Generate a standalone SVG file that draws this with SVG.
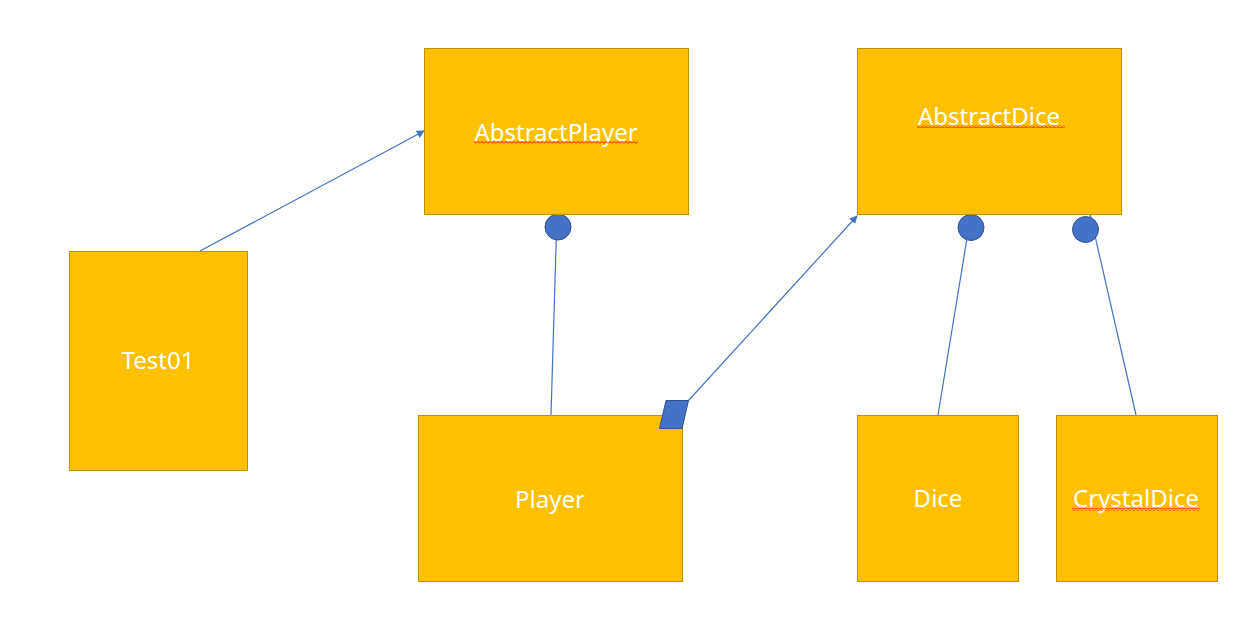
<svg xmlns="http://www.w3.org/2000/svg" width="1253" height="637" viewBox="0 0 1253 637">
<style>
.box{fill:#FFC000;stroke:#BF9000;stroke-width:1}
.lbl{font-family:"Noto Sans","Open Sans","Liberation Sans",sans-serif;font-size:24px;fill:#FFFFFF;text-anchor:middle}
.con{stroke:#4472C4;stroke-width:1.2;fill:none}
.dot{fill:#4472C4;stroke:#2F528F;stroke-width:1}
.squig{fill:url(#sq)}
</style>
<defs>
<marker id="arr" viewBox="0 0 10 10" refX="9" refY="5" markerWidth="8" markerHeight="8" markerUnits="userSpaceOnUse" orient="auto">
<path d="M0,0 L10,5 L0,10 z" fill="#4472C4"/>
</marker>
<pattern id="sq" patternUnits="userSpaceOnUse" width="4" height="3">
<path d="M0,2.5 L2,0.5 L4,2.5" stroke="#FF0000" stroke-width="1" fill="none"/>
</pattern>
</defs>
<rect width="1253" height="637" fill="#FFFFFF"/>
<g id="connectors">
<line class="con" x1="200" y1="251" x2="424" y2="131" marker-end="url(#arr)"/>
<line class="con" x1="557" y1="214" x2="551" y2="415"/>
<line class="con" x1="688" y1="401" x2="857" y2="216" marker-end="url(#arr)"/>
<line class="con" x1="971" y1="214" x2="938" y2="415"/>
<line class="con" x1="1090" y1="214" x2="1136" y2="415"/>
<circle class="dot" cx="558" cy="227" r="13"/>
<circle class="dot" cx="971" cy="227.5" r="13"/>
<circle class="dot" cx="1085.5" cy="229.5" r="13"/>
</g>
<g id="AbstractPlayer">
<rect class="box" x="424.5" y="48.5" width="264" height="166"/>
<text class="lbl" x="556" y="141">AbstractPlayer</text>
<rect class="squig" x="474" y="141" width="164" height="3"/>
</g>
<g id="AbstractDice">
<rect class="box" x="857.5" y="48.5" width="264" height="166"/>
<text class="lbl" x="989" y="125">AbstractDice</text>
<rect class="squig" x="917" y="125" width="148" height="3"/>
</g>
<g id="Test01">
<rect class="box" x="69.5" y="251.5" width="178" height="219"/>
<text class="lbl" x="158" y="369">Test01</text>
</g>
<g id="Player">
<rect class="box" x="418.5" y="415.5" width="264" height="166"/>
<text class="lbl" x="550" y="508">Player</text>
<polygon class="dot" points="666,400.5 688.5,400.5 682,428.5 659.5,428.5"/>
</g>
<g id="Dice">
<rect class="box" x="857.5" y="415.5" width="161" height="166"/>
<text class="lbl" x="938" y="507">Dice</text>
</g>
<g id="CrystalDice">
<rect class="box" x="1056.5" y="415.5" width="161" height="166"/>
<text class="lbl" x="1136" y="507">CrystalDice</text>
<rect class="squig" x="1072" y="508" width="128" height="3"/>
</g>
</svg>
